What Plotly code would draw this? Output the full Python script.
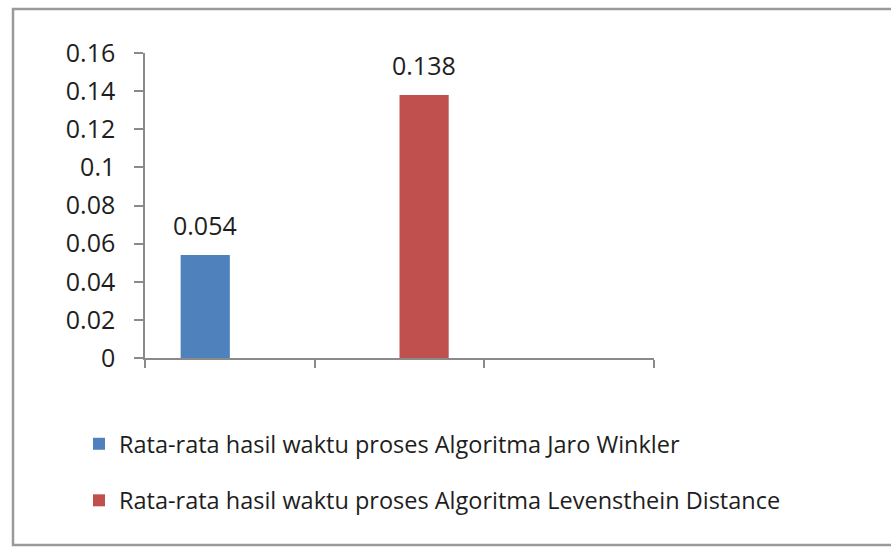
import plotly.graph_objects as go

# Chart data
categories = [1, 2, 3]
series_names = [
    "Rata-rata hasil waktu proses Algoritma Jaro Winkler",
    "Rata-rata hasil waktu proses Algoritma Levensthein Distance",
]
jaro_winkler = [0.054, None, None]
levenshtein = [None, 0.138, None]
y_ticks = [0, 0.02, 0.04, 0.06, 0.08, 0.1, 0.12, 0.14, 0.16]
y_tick_text = ["0", "0.02", "0.04", "0.06", "0.08", "0.1", "0.12", "0.14", "0.16"]

W, H = 891, 547
M_L, M_R, M_T, M_B = 145, 237, 53, 189
FONT = "Open Sans"
AXIS_COLOR = "#8a8a8a"
TEXT_COLOR = "#1e1e1e"
BARGAP = 0.42

fig = go.Figure()
series = [
    (series_names[0], jaro_winkler, "#4F81BD", "a"),
    (series_names[1], levenshtein, "#C0504D", "b"),
]
for name, vals, color, grp in series:
    fig.add_trace(go.Bar(
        x=categories, y=vals, name=name, marker_color=color,
        marker_line_width=0, legendgroup=grp,
    ))

# Value labels above each bar, placed at the grouped bar centres
n_series = len(series)
bar_w = (1 - BARGAP) / n_series
for i, (_, vals, _, _) in enumerate(series):
    offset = (i - (n_series - 1) / 2) * bar_w
    for c, v in zip(categories, vals):
        if v is None:
            continue
        fig.add_annotation(
            x=c + offset, y=v, text=f"{v:g}", showarrow=False,
            yanchor="bottom", yshift=11,
            font=dict(family=FONT, size=25, color=TEXT_COLOR),
        )

# Outer chart frame, expressed in paper coordinates
pw = W - M_L - M_R
ph = H - M_T - M_B
def px_x(p):
    return (p - M_L) / pw
def px_y(p):
    return (H - M_B - p) / ph

fig.add_shape(type="rect", xref="paper", yref="paper",
              x0=px_x(13), x1=px_x(900), y0=px_y(545), y1=px_y(9),
              line=dict(color="#9a9a9a", width=2.5), fillcolor="rgba(0,0,0,0)",
              layer="below")

# Tick marks sit on the boundaries between category slots
boundaries = [c - 0.5 for c in categories] + [categories[-1] + 0.5]

fig.update_layout(
    width=W, height=H,
    margin=dict(l=M_L, r=M_R, t=M_T, b=M_B, pad=0),
    paper_bgcolor="white", plot_bgcolor="white",
    barmode="group", bargap=BARGAP, bargroupgap=0,
    font=dict(family=FONT, color=TEXT_COLOR),
    showlegend=True,
    legend=dict(
        x=px_x(79), y=px_y(422), xanchor="left", yanchor="top",
        font=dict(family=FONT, size=23.5, color=TEXT_COLOR),
        traceorder="grouped", tracegroupgap=23,
        bgcolor="rgba(0,0,0,0)",
    ),
    xaxis=dict(
        range=[boundaries[0], boundaries[-1]], tickvals=boundaries,
        showticklabels=False,
        ticks="outside", ticklen=8, tickcolor=AXIS_COLOR,
        tickwidth=1.5, showline=True, linecolor=AXIS_COLOR, linewidth=1.5,
        showgrid=False, zeroline=False, fixedrange=True,
    ),
    yaxis=dict(
        range=[0, 0.16], tickvals=y_ticks, ticktext=y_tick_text,
        ticks="outside", ticklen=9, tickcolor=AXIS_COLOR, tickwidth=1.5,
        showline=True, linecolor=AXIS_COLOR, linewidth=1.5,
        showgrid=False, zeroline=False,
        tickfont=dict(family=FONT, size=25, color=TEXT_COLOR),
        ticklabelstandoff=14,
    ),
)

fig.write_html("out.html")
